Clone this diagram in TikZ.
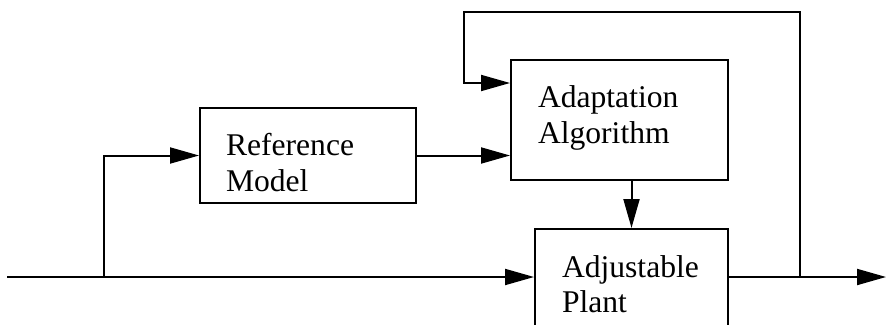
\documentclass[tikz,border=0pt]{standalone}
\usepackage{fontspec}
\setmainfont{Liberation Serif}
\usetikzlibrary{arrows.meta}
\begin{document}
\begin{tikzpicture}[x=1pt,y=-1pt,
  line width=2pt,
  blk/.style={draw,rectangle,minimum width=#1,inner sep=0pt},
  lbl/.style={anchor=base west,inner sep=0pt,font=\fontsize{31.6}{35}\selectfont},
  arr/.style={-{Triangle[length=29pt,width=16pt]}}]
\useasboundingbox (0,0) rectangle (886,324);
\clip (0,0) rectangle (886,324);
% blocks
\node[blk=216pt,minimum height=95pt] (ref) at (308,155.5) {};
\node[blk=217pt,minimum height=120pt] (adapt) at (619.5,120) {};
\node[blk=193pt,minimum height=111pt] (plant) at (631.5,284.5) {};
% labels
\node[lbl] (t1) at (225,155) {Reference};
\node[lbl] (t2) at (225,191) {Model};
\node[lbl] (t3) at (537,107) {Adaptation};
\node[lbl] (t4) at (537,143) {Algorithm};
\node[lbl] (t5) at (561,277) {Adjustable};
\node[lbl] (t6) at (561,312) {Plant};
% coordinates
\coordinate (in) at (7,277);
\coordinate (br) at (104,277);
\coordinate (out) at (886,277);
\coordinate (fb) at (800,277);
\coordinate (fbtr) at (800,12);
\coordinate (fbtl) at (464,12);
\coordinate (fbbl) at (464,83);
% connectors
\draw[arr] (in) -- (in -| plant.west);
\draw[arr] (br) |- (ref.west);
\draw[arr] (ref.east) -- (adapt.west |- ref.east);
\draw[arr] (plant.north |- adapt.south) -- (plant.north);
\draw[arr] (plant.east |- out) -- (out);
\draw[arr] (fb) -- (fbtr) -- (fbtl) -- (fbbl) -- (adapt.west |- fbbl);
\end{tikzpicture}
\end{document}
